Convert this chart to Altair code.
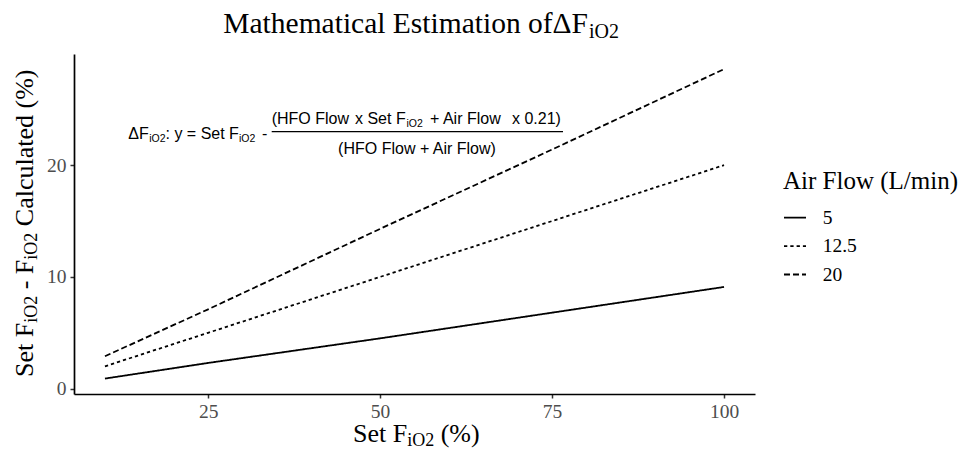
import altair as alt
import pandas as pd

# ---- data ----
set_fio2 = [10, 25, 50, 75, 100]
air_5 = [0.9, 2.3, 4.5, 6.8, 9.1]
air_12_5 = [2.0, 5.0, 10.0, 15.0, 20.0]
air_20 = [2.9, 7.1, 14.3, 21.4, 28.6]
air_labels = ["5", "12.5", "20"]
x_ticks = [25, 50, 75, 100]
y_ticks = [0, 10, 20]

rows = []
for lab, vals in zip(air_labels, [air_5, air_12_5, air_20]):
    for xv, yv in zip(set_fio2, vals):
        rows.append({"set": xv, "delta": yv, "air": lab})
df = pd.DataFrame(rows)

W, H = 681, 340
SERIF = "Liberation Serif"
SANS = "Liberation Sans"

lines = alt.Chart(df).mark_line(color="black", strokeWidth=1.8).encode(
    x=alt.X("set:Q",
            scale=alt.Scale(domain=[5.5, 104.5], nice=False, zero=False),
            axis=alt.Axis(values=x_ticks, title=None, grid=False)),
    y=alt.Y("delta:Q",
            scale=alt.Scale(domain=[-0.48, 29.95], nice=False, zero=False),
            axis=alt.Axis(values=y_ticks, title=None, grid=False)),
    strokeDash=alt.StrokeDash(
        "air:N", sort=air_labels,
        scale=alt.Scale(domain=air_labels, range=[[1, 0], [3.3, 3], [6, 3]]),
        legend=alt.Legend(title="Air Flow (L/min)", orient="none",
                          legendX=709, legendY=114.5)),
)

one = pd.DataFrame({"k": [0]})


def txt(s, x, y, size, font, angle=0, align="left", color="black", baseline="alphabetic"):
    return alt.Chart(one).mark_text(
        text=s, font=font, fontSize=size, align=align, baseline=baseline,
        angle=angle, color=color,
    ).encode(x=alt.value(x), y=alt.value(y))


layers = [lines]

# ---- title ----
layers += [
    txt("Mathematical Estimation ofΔF", 514, -21, 29.5, SERIF, align="right"),
    txt("iO2", 515, -16, 20, SERIF),
]

# ---- x axis title ----
layers += [
    txt("Set F", 279, 387.7, 26, SERIF),
    txt("iO2", 333.2, 391.7, 18, SERIF),
    txt("(%)", 366.7, 387.7, 26, SERIF),
]

# ---- y axis title (rotated) ----
layers += [
    txt("Set F", -41, 323, 26, SERIF, angle=270),
    txt("iO2", -37, 268.8, 18, SERIF, angle=270),
    txt("- F", -41, 235.3, 26, SERIF, angle=270),
    txt("iO2", -37, 205.7, 18, SERIF, angle=270),
    txt("Calculated (%)", -41, 172.2, 26, SERIF, angle=270),
]

# ---- formula annotation ----
layers += [
    txt("ΔF", 54.3, 84.5, 16, SANS),
    txt("iO2", 75.2, 87.5, 10.5, SANS),
    txt(": y = Set F", 91.5, 84.5, 16, SANS),
    txt("iO2", 165, 87.5, 10.5, SANS),
    txt("-", 188, 84.5, 16, SANS),
    txt("(HFO Flow", 197.7, 69.5, 16, SANS),
    txt("x Set F", 281, 69.5, 16, SANS),
    txt("iO2", 332.5, 72.5, 10.5, SANS),
    txt("+ Air Flow", 356, 69.5, 16, SANS),
    txt("x 0.21)", 438, 69.5, 16, SANS),
    txt("(HFO Flow + Air Flow)", 343, 99.5, 16, SANS, align="center"),
    alt.Chart(one).mark_rule(color="black", strokeWidth=1.3).encode(
        x=alt.value(197.7), x2=alt.value(489), y=alt.value(77.7)),
]

chart = alt.layer(*layers).properties(
    width=W, height=H,
    autosize=alt.AutoSizeParams(type="none"),
    padding={"left": 74, "top": 54, "right": 218, "bottom": 55},
).configure_view(stroke=None).configure_axis(
    domainColor="black", domainWidth=1.7,
    tickColor="#333333", tickWidth=1.5, tickSize=4,
    labelFont=SERIF, labelFontSize=19.5, labelColor="#4d4d4d", labelPadding=4,
    grid=False,
).configure_legend(
    titleFont=SERIF, titleFontSize=25, titleFontWeight="normal", titleColor="black",
    labelFont=SERIF, labelFontSize=19.5, labelColor="black",
    symbolType="stroke", symbolSize=484, symbolStrokeWidth=1.8,
    symbolStrokeColor="black", rowPadding=6.4, titlePadding=12.2,
    labelOffset=15.7, padding=0,
)

chart.save("out.html", embed_options={"renderer": "svg", "actions": False})
